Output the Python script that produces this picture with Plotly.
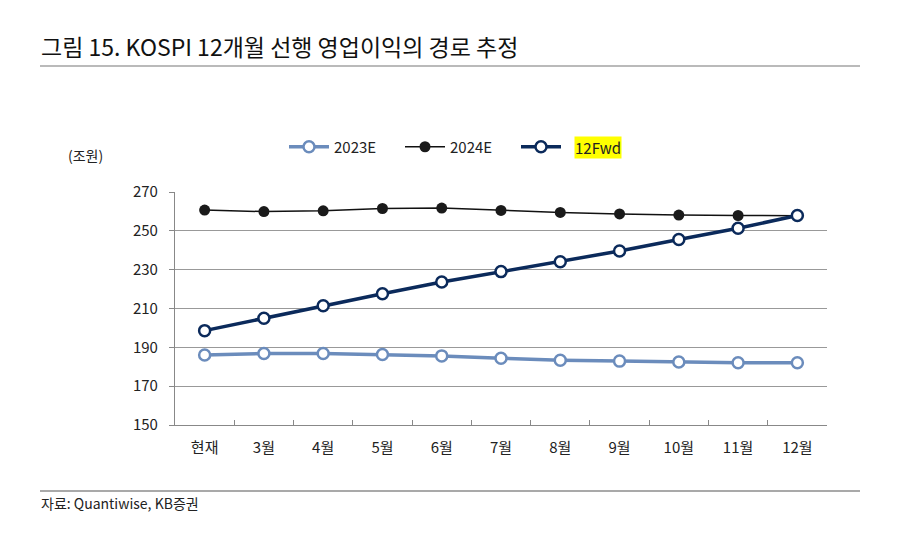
import plotly.graph_objects as go

categories = ["현재", "3월", "4월", "5월", "6월", "7월", "8월", "9월", "10월", "11월", "12월"]
e2023 = [186.1, 186.8, 186.8, 186.3, 185.6, 184.4, 183.4, 182.9, 182.4, 182.1, 182.1]
e2024 = [260.7, 259.9, 260.3, 261.5, 261.7, 260.5, 259.5, 258.7, 258.1, 257.9, 257.8]
fwd12 = [198.6, 205.0, 211.4, 217.6, 223.6, 229.0, 234.1, 239.6, 245.5, 251.3, 257.9]
y_ticks = [150, 170, 190, 210, 230, 250, 270]

FONT = "Noto Sans CJK KR"
W, H = 900, 542
L, R, T, B = 175, 827, 192, 425

def px(x):
    return (x - L) / (R - L)

def py(y):
    return (B - y) / (B - T)

fig = go.Figure()
fig.add_trace(go.Scatter(
    x=categories, y=e2023, name="2023E", mode="lines+markers",
    line=dict(color="#6B8CBC", width=3.5),
    marker=dict(symbol="circle", size=11, color="white", line=dict(color="#6B8CBC", width=2.5)),
))
fig.add_trace(go.Scatter(
    x=categories, y=e2024, name="2024E", mode="lines+markers",
    line=dict(color="#111111", width=1.5),
    marker=dict(symbol="circle", size=11, color="#1a1a1a"),
))
# legend label for 12Fwd is drawn as a highlighted annotation below
fig.add_trace(go.Scatter(
    x=categories, y=fwd12, name=" ",
    mode="lines+markers",
    line=dict(color="#0B2A5B", width=3.5),
    marker=dict(symbol="circle", size=11, color="white", line=dict(color="#0B2A5B", width=2.5)),
))

fig.update_layout(
    width=W, height=H,
    margin=dict(l=L, r=W - R, t=T, b=H - B),
    paper_bgcolor="white", plot_bgcolor="white",
    font=dict(family=FONT, size=15, color="#222222"),
    showlegend=True,
    legend=dict(orientation="h", x=px(284), xanchor="left", y=py(147), yanchor="middle",
                font=dict(family=FONT, size=15, color="#222222"),
                itemwidth=40, entrywidth=61, entrywidthmode="pixels",
                tracegroupgap=0, bgcolor="rgba(0,0,0,0)"),
    xaxis=dict(
        type="category", range=[-0.5, 10.5], tickson="boundaries",
        ticks="inside", ticklen=5, tickcolor="#888888",
        showline=True, linecolor="#888888", linewidth=1.2,
        showgrid=False, ticklabelstandoff=9,
        tickfont=dict(family=FONT, size=15, color="#222222"),
    ),
    yaxis=dict(
        range=[150, 270], tickvals=y_ticks, ticks="outside", ticklen=5,
        tickcolor="#888888", showline=True, linecolor="#888888", linewidth=1.2,
        showgrid=True, gridcolor="#999999", gridwidth=1.2, zeroline=False,
        ticklabelstandoff=8,
        tickfont=dict(family=FONT, size=15, color="#222222"),
    ),
)

annotations = [
    dict(text="그림 15. KOSPI 12개월 선행 영업이익의 경로 추정", xref="paper", yref="paper",
         x=px(39), y=py(46), xanchor="left", yanchor="middle", showarrow=False,
         font=dict(family=FONT, size=23, color="#111111")),
    dict(text="(조원)", xref="paper", yref="paper", x=px(66), y=py(155),
         xanchor="left", yanchor="middle", showarrow=False,
         font=dict(family=FONT, size=14, color="#222222")),
    dict(text="자료: Quantiwise, KB증권", xref="paper", yref="paper", x=px(39), y=py(503),
         xanchor="left", yanchor="middle", showarrow=False,
         font=dict(family=FONT, size=14, color="#222222")),
    dict(text="12Fwd", xref="paper", yref="paper", x=px(574), y=py(147),
         xanchor="left", yanchor="middle", showarrow=False, bgcolor="#FFFF00",
         borderpad=0,
         font=dict(family=FONT, size=15, color="#222222")),
]
fig.update_layout(annotations=annotations)

fig.add_shape(type="line", xref="paper", yref="paper", x0=px(40), x1=px(860), y0=py(66), y1=py(66),
              line=dict(color="#777777", width=1.2))
fig.add_shape(type="line", xref="paper", yref="paper", x0=px(40), x1=px(860), y0=py(491), y1=py(491),
              line=dict(color="#555555", width=1.2))

fig.write_html("out.html", config={"displayModeBar": False},
               post_script="document.body.style.margin='0';")
